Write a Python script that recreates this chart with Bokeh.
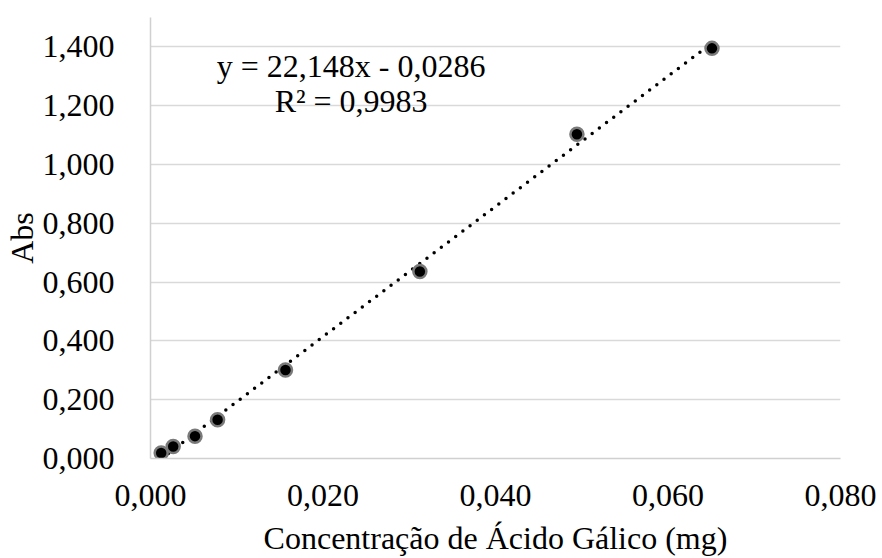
from bokeh.plotting import figure
from bokeh.models import FixedTicker, Label, Range1d
from bokeh.embed import file_html
from bokeh.resources import INLINE

# data
conc = [0.00124, 0.00263, 0.00516, 0.00778, 0.01565, 0.03123, 0.04944, 0.0651]
absorb = [0.019, 0.041, 0.076, 0.132, 0.301, 0.636, 1.103, 1.395]
slope = 22.148
intercept = -0.0286
eq_text = "y = 22,148x - 0,0286"
r2_text = "R² = 0,9983"
x_title = "Concentração de Ácido Gálico (mg)"
y_title = "Abs"
x_ticks = [0.0, 0.02, 0.04, 0.06, 0.08]
x_tick_labels = ["0,000", "0,020", "0,040", "0,060", "0,080"]
y_ticks = [0.0, 0.2, 0.4, 0.6, 0.8, 1.0, 1.2, 1.4]
y_tick_labels = ["0,000", "0,200", "0,400", "0,600", "0,800", "1,000", "1,200", "1,400"]

FONT = "Liberation Serif"
FS = "32px"

p = figure(width=882, height=558, output_backend="svg", toolbar_location=None,
           x_range=Range1d(0, 0.08), y_range=Range1d(0, 1.5),
           min_border_left=142, min_border_right=42, min_border_top=17, min_border_bottom=100)
p.outline_line_color = None
p.background_fill_color = "white"
p.border_fill_color = "white"

# axes
p.xaxis.ticker = FixedTicker(ticks=x_ticks)
p.yaxis.ticker = FixedTicker(ticks=y_ticks)
p.xaxis.major_label_overrides = {t: l for t, l in zip(x_ticks, x_tick_labels)}
p.yaxis.major_label_overrides = {t: l for t, l in zip(y_ticks, y_tick_labels)}
for ax in (p.xaxis, p.yaxis):
    ax.axis_line_color = "#d0d0d0"
    ax.axis_line_width = 1.5
    ax.major_tick_line_color = None
    ax.minor_tick_line_color = None
    ax.major_label_text_font = FONT
    ax.major_label_text_font_size = FS
    ax.major_label_text_color = "black"
    ax.axis_label_text_font = FONT
    ax.axis_label_text_font_size = FS
    ax.axis_label_text_font_style = "normal"
    ax.axis_label_text_color = "black"
p.xaxis.axis_label = x_title
p.yaxis.axis_label = y_title
p.xaxis.major_label_standoff = 20
p.yaxis.major_label_standoff = 30
p.xaxis.axis_label_standoff = 11
p.yaxis.axis_label_standoff = 0

p.xgrid.grid_line_color = None
p.ygrid.ticker = FixedTicker(ticks=y_ticks)
p.ygrid.grid_line_color = "#d9d9d9"
p.ygrid.grid_line_width = 1.5

# trend line
xs = [min(conc), max(conc)]
ys = [slope * x + intercept for x in xs]
p.line(xs, ys, line_color="black", line_width=3.5, line_dash="0 9", line_cap="round")

# points
p.scatter(conc, absorb, size=13, fill_color="black", line_color="#7a7a7a", line_width=2.5)

# equation
eq_x = 0.02326
p.add_layout(Label(x=eq_x, y=1.3355, text=eq_text, text_align="center", text_baseline="alphabetic",
                   text_font=FONT, text_font_size=FS, text_color="black"))
p.add_layout(Label(x=eq_x, y=1.2165, text=r2_text, text_align="center", text_baseline="alphabetic",
                   text_font=FONT, text_font_size=FS, text_color="black"))

open("out.html", "w").write(file_html(p, INLINE))
